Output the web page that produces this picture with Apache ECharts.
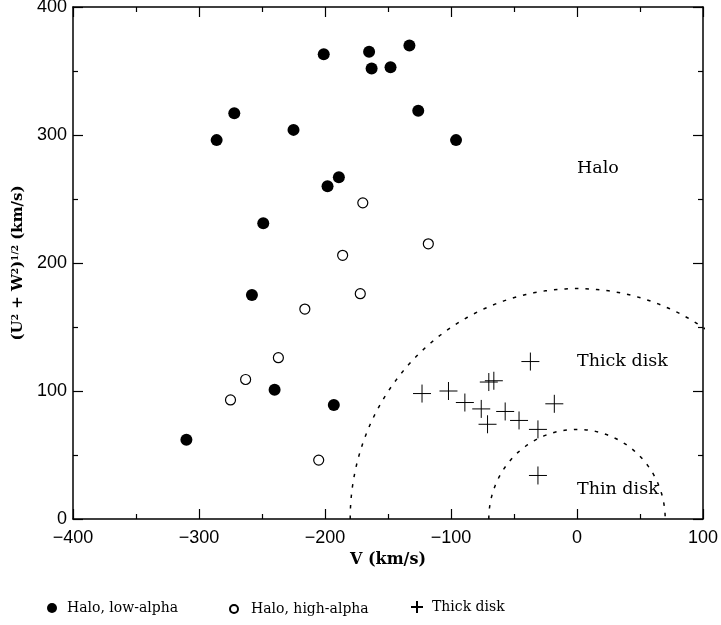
<!DOCTYPE html>
<html>
<head>
<meta charset="utf-8">
<script src="https://cdn.jsdelivr.net/npm/echarts@6/dist/echarts.min.js"></script>
<style>
html,body{margin:0;padding:0;background:#fff;}
#chart{width:721px;height:625px;}
</style>
</head>
<body>
<div id="chart"></div>
<script>
// V (km/s), (U^2+W^2)^1/2 (km/s)
const haloLowAlpha = [[-286,296],[-272,317],[-201,363],[-225,304],[-198,260],[-189,267],[-249,231],[-258,175],[-240,101],[-193,89],[-310,62],[-165,365],[-163,352],[-148,353],[-133,370],[-126,319],[-96,296]];
const haloHighAlpha = [[-216,164],[-237,126],[-263,109],[-275,93],[-205,46],[-170,247],[-186,206],[-172,176],[-118,215]];
const thickDisk = [[-37,123],[-70,107],[-66,108],[-123,98],[-102,100],[-89,91],[-76,86],[-71,74],[-57,84],[-46,77],[-31,70],[-18,90],[-31,34]];
const boundaryRadii = [180, 70];
const regionLabels = [[0,274,'Halo'],[0,123,'Thick disk'],[0,23,'Thin disk']];
const xTicks = [-400,-300,-200,-100,0,100];
const yTicks = [0,100,200,300,400];
const seriesNames = ['Halo, low-alpha','Halo, high-alpha','Thick disk'];

function circlePts(r){
  const pts=[];
  for(let a=180;a>=0;a-=1){
    const t=a*Math.PI/180;
    pts.push([r*Math.cos(t), r*Math.sin(t)]);
  }
  return pts;
}

const serif = 'DejaVu Serif';
const sans = 'Liberation Sans';
const fmt = v => String(v).replace('-', '\u2212');

function axisCommon(){
  return {
    axisLine:{show:true,onZero:false,lineStyle:{color:'#000',width:1.5}},
    axisTick:{show:true,inside:true,length:10,lineStyle:{color:'#000',width:1.2}},
    minorTick:{show:true,splitNumber:2,length:5,lineStyle:{color:'#000',width:1.2}},
    splitLine:{show:false},
    minorSplitLine:{show:false}
  };
}

const chart = echarts.init(document.getElementById('chart'));
const plusPath = 'path://M0,-10L0,10M-10,0L10,0';

chart.setOption({
  animation:false,
  backgroundColor:'#fff',
  grid:{left:73,right:18,top:7,bottom:106,outerBoundsMode:'none'},
  xAxis:[
    Object.assign({type:'value',position:'bottom',min:xTicks[0],max:xTicks[xTicks.length-1],interval:100,
      name:'V (km/s)',nameLocation:'middle',nameGap:29,
      nameTextStyle:{fontFamily:serif,fontSize:16,fontWeight:'bold',color:'#000'},
      axisLabel:{fontFamily:sans,fontSize:18,color:'#000',margin:10,formatter:fmt}},axisCommon()),
    Object.assign({type:'value',position:'top',min:xTicks[0],max:xTicks[xTicks.length-1],interval:100,
      axisLabel:{show:false}},axisCommon())
  ],
  yAxis:[
    Object.assign({type:'value',position:'left',min:yTicks[0],max:yTicks[yTicks.length-1],interval:100,
      name:'(U{s|2} + W{s|2}){s|1/2} (km/s)',nameLocation:'middle',nameGap:47,nameRotate:90,
      nameTextStyle:{fontFamily:serif,fontSize:15,fontWeight:'bold',color:'#000',
        rich:{s:{fontFamily:serif,fontSize:9,fontWeight:'bold',color:'#000',verticalAlign:'top',lineHeight:12}}},
      axisLabel:{fontFamily:sans,fontSize:18,color:'#000',margin:6,formatter:fmt}},axisCommon()),
    Object.assign({type:'value',position:'right',min:yTicks[0],max:yTicks[yTicks.length-1],interval:100,
      axisLabel:{show:false}},axisCommon())
  ],
  legend:[
    {data:[seriesNames[0]],left:47,top:601,padding:0,itemWidth:10,itemHeight:10,itemGap:0,
      textStyle:{fontFamily:serif,fontSize:14,color:'#000',padding:[0,0,0,5]}},
    {data:[seriesNames[1]],left:229,top:602,padding:0,itemWidth:8,itemHeight:8,itemGap:0,
      textStyle:{fontFamily:serif,fontSize:14,color:'#000',padding:[0,0,0,8]}},
    {data:[seriesNames[2]],left:410,top:600,padding:0,itemWidth:12,itemHeight:12,itemGap:0,
      textStyle:{fontFamily:serif,fontSize:14,color:'#000',padding:[0,0,0,4]}}
  ],
  series:[
    {name:seriesNames[0],type:'scatter',data:haloLowAlpha,symbol:'circle',symbolSize:12,
      itemStyle:{color:'#000',opacity:1},z:5},
    {name:seriesNames[1],type:'scatter',data:haloHighAlpha,symbol:'circle',symbolSize:10,
      itemStyle:{color:'#fff',borderColor:'#000',borderWidth:1.2,opacity:1},z:5},
    {name:seriesNames[2],type:'scatter',data:thickDisk,symbol:plusPath,symbolSize:18,
      itemStyle:{color:'transparent',borderColor:'#000',borderWidth:1,opacity:1},z:5},
    ...boundaryRadii.map(r=>({type:'line',data:circlePts(r),showSymbol:false,symbol:'none',clip:true,
      lineStyle:{color:'#000',width:1.5,type:[3.5,7]},silent:true,z:3})),
    {type:'scatter',data:regionLabels,symbolSize:0,silent:true,itemStyle:{opacity:1},
      label:{show:true,position:'right',distance:0,formatter:p=>p.data[2],
        fontFamily:serif,fontSize:17.5,color:'#000',opacity:1}}
  ]
});
</script>
</body>
</html>
